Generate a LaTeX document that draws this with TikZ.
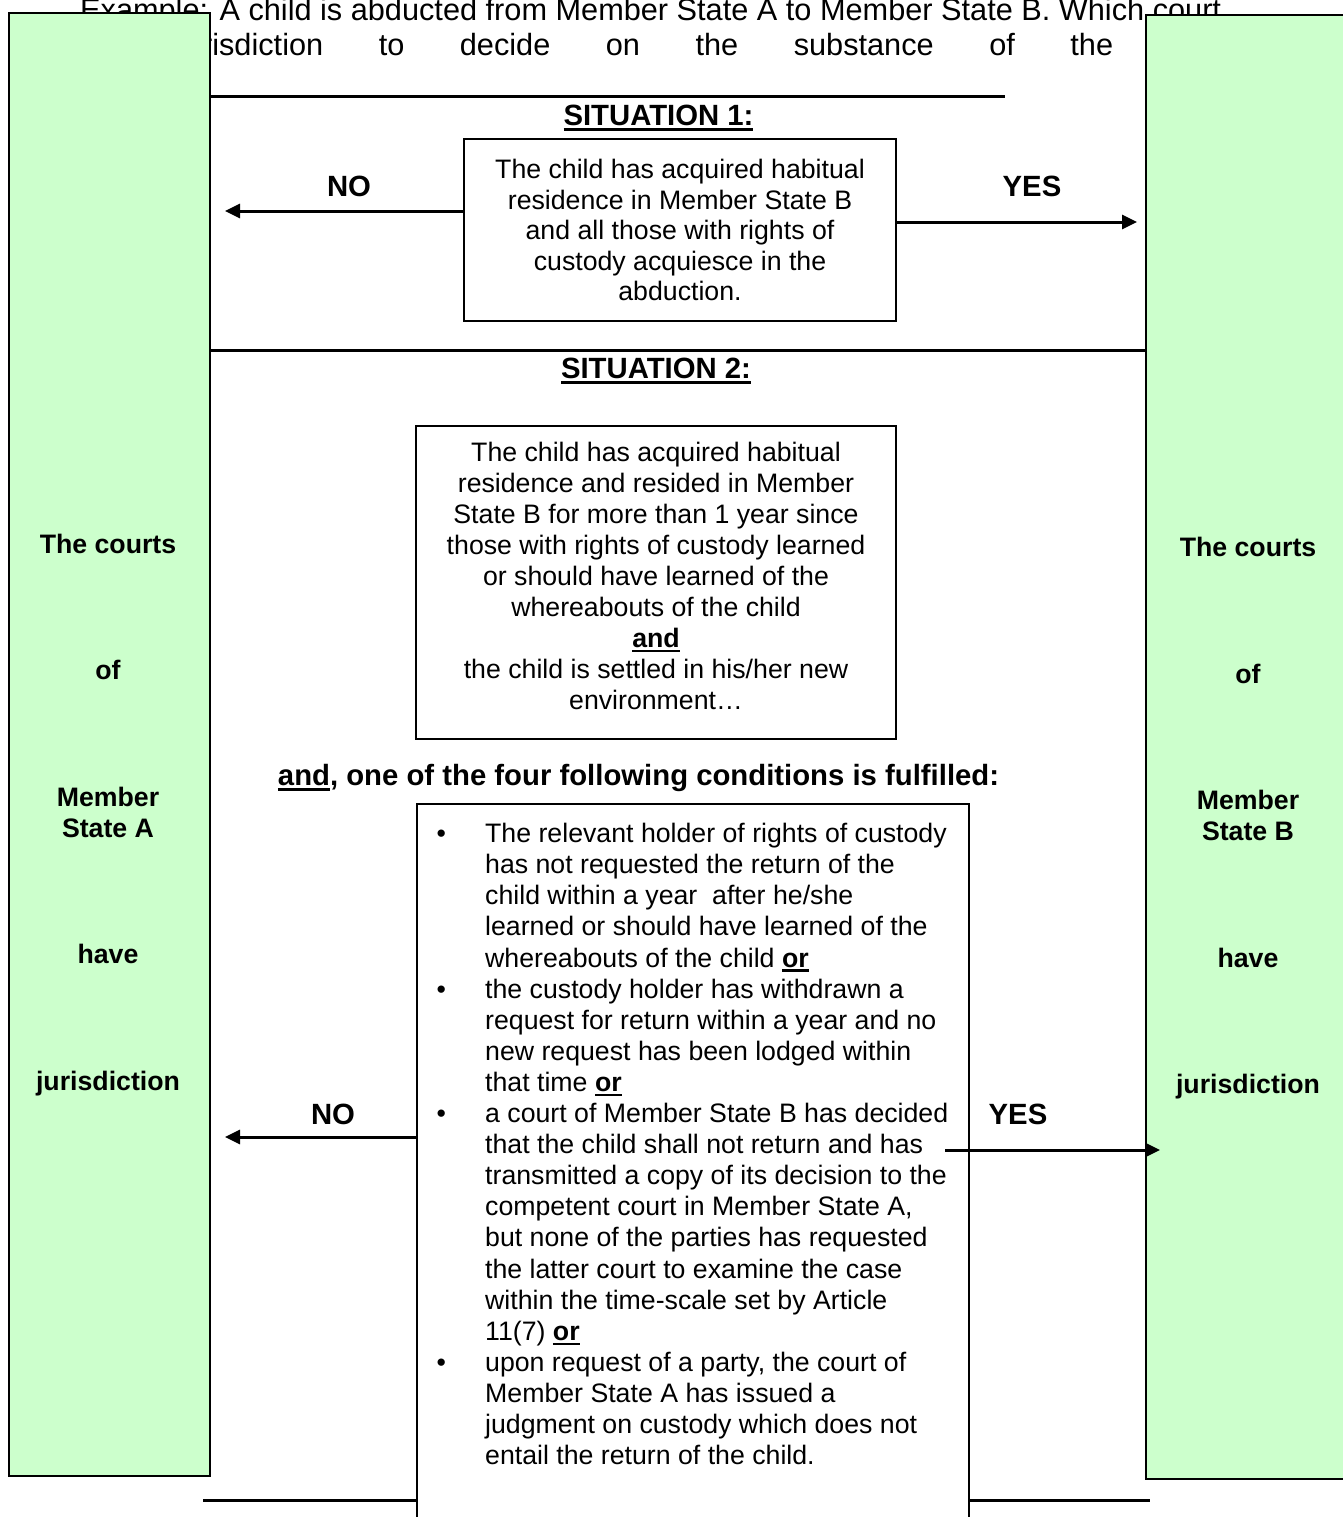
\documentclass[tikz,border=0pt]{standalone}
\usepackage{fontspec}
\setmainfont{Liberation Sans}
\usetikzlibrary{arrows.meta}
\definecolor{boxgreen}{HTML}{CCFFCC}
\newsavebox\ulbox
\newcommand\myul[1]{\sbox\ulbox{#1}\rlap{\rule[-5pt]{\wd\ulbox}{2.6pt}}\usebox\ulbox}
\tikzset{
  body/.style={font=\fontsize{26.7}{31}\selectfont},
  boldtxt/.style={font=\fontsize{26.7}{31}\selectfont\bfseries},
  bigbold/.style={font=\fontsize{29.3}{34}\selectfont\bfseries},
  hdr/.style={font=\fontsize{30.7}{35}\selectfont, inner sep=0pt, anchor=base west},
  sidebox/.style={draw, line width=2.2pt, fill=boxgreen, inner sep=0pt, anchor=north west},
  condbox/.style={draw, line width=1.8pt, fill=white, inner sep=0pt, align=center, body},
  sidetext/.style={boldtxt, align=center, inner sep=0pt, anchor=north},
  rulestyle/.style={line width=3pt},
  arr/.style={line width=3pt, -{Triangle[length=15pt,width=14pt]}},
}
\begin{document}
\begin{tikzpicture}[x=1pt,y=-1pt]
\useasboundingbox (0,0) rectangle (1343,1517);
\fill[white] (0,0) rectangle (1343,1517);

% header text (partly covered by the side boxes)
\node[hdr] (hd1) at (80,21) {Example: A child is abducted from Member State A to Member State B. Which court};
\node[hdr] (hd2) at (73,56) {\makebox[1040pt][s]{has jurisdiction to decide on the substance of the}};

% side boxes
\node[sidebox, minimum width=201pt, minimum height=1463pt] (sideA) at (8,12) {};
\node[sidebox, minimum width=207pt, minimum height=1464pt] (sideB) at (1145,14) {};

\node[sidetext] (txtA) at (108,531.3) {\strut The courts\\[95pt]of\\[96pt]Member\\State A\\[95pt]have\\[96pt]jurisdiction};
\node[sidetext] (txtB) at (1248,534.3) {\strut The courts\\[96pt]of\\[95pt]Member\\State B\\[96pt]have\\[95pt]jurisdiction};

% horizontal rules
\coordinate (h1r) at (1005,97);
\draw[rulestyle] (sideA.east |- h1r) -- (h1r);
\coordinate (h2) at (600,350);
\draw[rulestyle] (sideA.east |- h2) -- (sideB.west |- h2);
\coordinate (h3l) at (203,1500);
\coordinate (h3r) at (1150,1500);
\draw[rulestyle] (h3l) -- (h3r);

% situation 1
\node[bigbold] (sit1) at (658.5,118) {\myul{SITUATION 1:}};
\node[condbox, minimum width=432pt, minimum height=182pt, font=\fontsize{26.7}{30.5}\selectfont] (box1) at (680,230)
  {The child has acquired habitual\\residence in Member State B\\and all those with rights of\\custody acquiesce in the\\abduction.};
\node[bigbold] (no1) at (349,186) {NO};
\node[bigbold] (yes1) at (1032,186) {YES};

% situation 2
\node[bigbold] (sit2) at (656,371) {\myul{SITUATION 2:}};
\node[condbox, minimum width=480pt, minimum height=313pt] (box2) at (656,582.5)
  {The child has acquired habitual\\residence and resided in Member\\State B for more than 1 year since\\those with rights of custody learned\\or should have learned of the\\whereabouts of the child\\\textbf{\myul{and}}\\the child is settled in his/her new\\environment…\rule[-14pt]{0pt}{14pt}};
\node[bigbold] (four) at (638.5,778) {\myul{and}, one of the four following conditions is fulfilled:};

\node[condbox, anchor=north west, minimum width=552pt, minimum height=727pt] (box3) at (416,803) {};
\node[align=left, anchor=north west, inner sep=0pt, font=\fontsize{26.7}{31.1}\selectfont] (cond) at (485,820.7)
  {\strut\llap{•\hspace{39.3pt}}The relevant holder of rights of custody\\
   has not requested the return of the\\
   child within a year~ after he/she\\
   learned or should have learned of the\\
   whereabouts of the child \textbf{\myul{or}}\\
   \llap{•\hspace{39.3pt}}the custody holder has withdrawn a\\
   request for return within a year and no\\
   new request has been lodged within\\
   that time \textbf{\myul{or}}\\
   \llap{•\hspace{39.3pt}}a court of Member State B has decided\\
   that the child shall not return and has\\
   transmitted a copy of its decision to the\\
   competent court in Member State A,\\
   but none of the parties has requested\\
   the latter court to examine the case\\
   within the time-scale set by Article\\
   11(7) \textbf{\myul{or}}\\
   \llap{•\hspace{39.3pt}}upon request of a party, the court of\\
   Member State A has issued a\\
   judgment on custody which does not\\
   entail the return of the child.};
\node[bigbold] (no2) at (333,1114) {NO};
\node[bigbold] (yes2) at (1018,1114) {YES};

% arrows
\coordinate (noTip1) at (225,211);
\draw[arr] (box1.west |- noTip1) -- (noTip1);
\coordinate (yesTip1) at (1137,222);
\draw[arr] (box1.east |- yesTip1) -- (yesTip1);
\coordinate (noTip2) at (225,1137);
\draw[arr] (box3.west |- noTip2) -- (noTip2);
\coordinate (yesStart2) at (945,1150);
\coordinate (yesTip2) at (1160,1150);
\draw[arr] (yesStart2) -- (yesTip2);
\end{tikzpicture}
\end{document}
